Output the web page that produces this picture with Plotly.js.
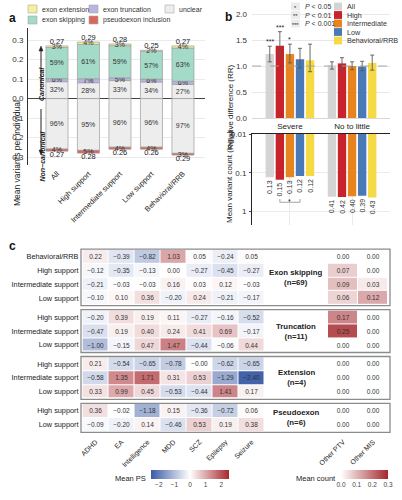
<!DOCTYPE html>
<html>
<head>
<meta charset="utf-8">
<script src="https://cdn.plot.ly/plotly-3.0.1.min.js"></script>
<style>
  html, body { margin: 0; padding: 0; background: #fff; }
  #chart { width: 402px; height: 500px; }
</style>
</head>
<body>
<div id="chart"></div>
<script>
// ---- a: splicing outcome per support group (share of each bar, in %) ----
const supportGroups = ['All', 'High support', 'Intermediate support', 'Low support', 'Behavioral/RRB'];
const canonicalTotal = [0.27, 0.29, 0.28, 0.25, 0.27];
const canonicalUnclear = [32, 28, 33, 34, 27];
const canonicalTruncation = [6, 7, 5, 6, 6];
const canonicalSkipping = [59, 61, 59, 57, 63];
const canonicalExtension = [3, 4, 3, 2, 4];
const nonCanonicalTotal = [0.27, 0.28, 0.26, 0.26, 0.29];
const nonCanonicalUnclear = [96, 95, 96, 96, 97];
const nonCanonicalPseudoexon = [4, 5, 4, 4, 3];
const outcomeLabels = ['exon extension', 'exon truncation', 'unclear', 'exon skipping', 'pseudoexon inclusion'];

// ---- b: relative difference and mean variant count by severity ----
const severity = ['Severe', 'No to little'];
const levels = ['All', 'High', 'Intermediate', 'Low', 'Behavioral/RRB'];
const rrEstimate = [[1.23, 1.01], [1.39, 1.05], [1.23, 1.00], [1.13, 0.99], [1.11, 1.06]];
const rrLower = [[1.08, 0.94], [1.18, 0.95], [1.06, 0.93], [0.96, 0.91], [0.89, 0.92]];
const rrUpper = [[1.38, 1.08], [1.66, 1.16], [1.42, 1.08], [1.34, 1.09], [1.42, 1.21]];
const rrStars = [['***', ''], ['***', ''], ['*', ''], ['', ''], ['', '']];
const meanCount = [[0.13, 0.41], [0.15, 0.42], [0.13, 0.40], [0.12, 0.39], [0.12, 0.43]];
const pLegendKeys = ['*', '**', '***'];
const pLegendText = ['<i>P</i> < 0.05', '<i>P</i> < 0.01', '<i>P</i> < 0.001'];

// ---- c: mean polygenic score per trait and co-occurring variant counts ----
const traits = ['ADHD', 'EA', 'Intelligence', 'MDD', 'SCZ', 'Epilepsy', 'Seizure'];
const otherVariants = ['Other PTV', 'Other MIS'];

const skipRows = ['Behavioral/RRB', 'High support', 'Intermediate support', 'Low support'];
const skipPS = [
  [0.22, -0.39, -0.82, 1.03, 0.05, -0.24, 0.05],
  [-0.12, -0.35, -0.13, 0.00, -0.27, -0.45, -0.27],
  [-0.21, -0.03, -0.03, 0.16, 0.03, 0.12, -0.03],
  [-0.10, 0.10, 0.36, -0.20, 0.24, -0.21, -0.17]
];
const skipCount = [[0.00, 0.00], [0.07, 0.00], [0.09, 0.03], [0.06, 0.12]];

const truncRows = ['High support', 'Intermediate support', 'Low support'];
const truncPS = [
  [-0.20, 0.39, 0.19, 0.11, -0.27, -0.16, -0.52],
  [-0.47, 0.19, 0.40, 0.24, 0.41, 0.69, -0.17],
  [-1.00, -0.15, 0.47, 1.47, -0.44, -0.06, 0.44]
];
const truncCount = [[0.17, 0.00], [0.25, 0.00], [0.00, 0.00]];

const extRows = ['High support', 'Intermediate support', 'Low support'];
const extPS = [
  [0.21, -0.54, -0.65, -0.78, -0.00, -0.62, -0.65],
  [-0.58, 1.35, 1.71, 0.31, 0.53, -1.29, -2.40],
  [0.33, 0.99, 0.45, -0.53, -0.44, 1.41, 0.17]
];
const extCount = [[0.00, 0.00], [0.00, 0.00], [0.00, 0.00]];

const pseudoRows = ['High support', 'Low support'];
const pseudoPS = [
  [0.36, -0.02, -1.18, 0.15, -0.36, -0.72, 0.06],
  [-0.09, -0.20, 0.14, -0.46, 0.53, 0.19, 0.38]
];
const pseudoCount = [[0.00, 0.00], [0.00, 0.00]];

const groupNames = ['Exon skipping', 'Truncation', 'Extension', 'Pseudoexon'];
const groupSizes = [69, 11, 4, 6];
const groupRows = [skipRows, truncRows, extRows, pseudoRows];
const groupPS = [skipPS, truncPS, extPS, pseudoPS];
const groupCounts = [skipCount, truncCount, extCount, pseudoCount];

// ---- styling ----
const FONT = 'Liberation Sans, Arial, Helvetica, sans-serif';
const outcomeColors = { ext: '#f6f09c', trunc: '#b9b4e0', unclear: '#ededed', skip: '#a4dac8', pseudo: '#d9685c' };
const levelColors = ['#d4d4d4', '#c8232b', '#e8841f', '#4a79b7', '#f6da45'];
const psScale = [[0, '#3a5ba6'], [0.5, '#ffffff'], [1, '#a8272d']];
const countScale = [[0, '#ffffff'], [1, '#a5282d']];

const W = 402, H = 500;
const px = v => v / W;          // pixel column -> paper x
const py = v => 1 - v / H;      // pixel row -> paper y
const signed = v => (v < 0 || Object.is(v, -0) ? '\u2212' : '') + Math.abs(v).toFixed(2);

const traces = [];
const shapes = [];
const annotations = [];

// ---------- a ----------
function stacked(totals, shares, colors, sign) {
  const base = totals.map(() => 0);
  return shares.map((share, k) => {
    const h = totals.map((t, i) => sign * t * share[i] / 100);
    const tr = {
      type: 'bar', x: supportGroups, y: h, base: base.slice(), width: 0.7, offsetgroup: 'a',
      xaxis: 'x', yaxis: 'y',
      marker: { color: colors[k], line: { color: '#9d9d9d', width: 0.7 } },
      text: share.map(s => s + '%'), textposition: 'inside', insidetextanchor: 'middle', textangle: 0,
      textfont: { size: 7.5, color: '#333' }, cliponaxis: false, hoverinfo: 'skip', showlegend: false
    };
    h.forEach((v, i) => { base[i] += v; });
    return tr;
  });
}
traces.push(...stacked(canonicalTotal,
  [canonicalUnclear, canonicalTruncation, canonicalSkipping, canonicalExtension],
  [outcomeColors.unclear, outcomeColors.trunc, outcomeColors.skip, outcomeColors.ext], 1));
traces.push(...stacked(nonCanonicalTotal,
  [nonCanonicalUnclear, nonCanonicalPseudoexon],
  [outcomeColors.unclear, outcomeColors.pseudo], -1));
traces.push({
  type: 'scatter', mode: 'text', x: supportGroups, y: canonicalTotal,
  text: canonicalTotal.map(v => v.toFixed(2)), textposition: 'top center',
  textfont: { size: 7.5, color: '#222' }, xaxis: 'x', yaxis: 'y', cliponaxis: false, hoverinfo: 'skip', showlegend: false
});
traces.push({
  type: 'scatter', mode: 'text', x: supportGroups, y: nonCanonicalTotal.map(v => -v),
  text: nonCanonicalTotal.map(v => v.toFixed(2)), textposition: 'bottom center',
  textfont: { size: 7.5, color: '#222' }, xaxis: 'x', yaxis: 'y', cliponaxis: false, hoverinfo: 'skip', showlegend: false
});

// legend of outcomes (two rows)
const legendA = [
  { c: outcomeColors.ext, x: 28, y: 9 }, { c: outcomeColors.trunc, x: 89, y: 9 }, { c: outcomeColors.unclear, x: 165, y: 9 },
  { c: outcomeColors.skip, x: 28, y: 20 }, { c: outcomeColors.pseudo, x: 89, y: 20 }
];
legendA.forEach((item, i) => {
  shapes.push({ type: 'rect', xref: 'paper', yref: 'paper', x0: px(item.x), x1: px(item.x + 9), y0: py(item.y + 4), y1: py(item.y - 4),
    fillcolor: item.c, line: { color: '#a8a8a8', width: 0.6 } });
  annotations.push({ xref: 'paper', yref: 'paper', x: px(item.x + 12), y: py(item.y), xanchor: 'left', yanchor: 'middle',
    text: outcomeLabels[i], showarrow: false, font: { size: 7, color: '#333' } });
});

// canonical / non-canonical side labels with arrows
annotations.push({ xref: 'paper', yref: 'paper', x: px(36), y: py(64), text: '<b><i>Canonical</i></b>', textangle: -90,
  showarrow: false, font: { size: 7, color: '#222' } });
annotations.push({ xref: 'paper', yref: 'paper', x: px(36.5), y: py(129), text: '<b><i>Non\u2212canonical</i></b>', textangle: -90,
  showarrow: false, font: { size: 7, color: '#222' } });
function vArrow(x, yTail, yHead) {
  const dir = yHead < yTail ? 1 : -1;
  shapes.push({ type: 'line', xref: 'paper', yref: 'paper', x0: px(x), x1: px(x), y0: py(yTail), y1: py(yHead + dir * 3),
    line: { color: '#222', width: 1 } });
  shapes.push({ type: 'path', xref: 'paper', yref: 'paper',
    path: `M ${px(x)},${py(yHead)} L ${px(x - 2)},${py(yHead + dir * 5)} L ${px(x + 2)},${py(yHead + dir * 5)} Z`,
    fillcolor: '#222', line: { color: '#222', width: 0.5 } });
}
vArrow(41, 89, 46);
vArrow(41, 109, 155);

annotations.push({ xref: 'paper', yref: 'paper', x: px(10), y: py(98), text: 'Mean variants per individual', textangle: -90,
  showarrow: false, font: { size: 8.5, color: '#222' } });

// ---------- b ----------
const slot = 0.81 / levels.length;
levels.forEach((lv, i) => {
  traces.push({
    type: 'bar', name: lv, x: severity, y: rrEstimate[i], xaxis: 'x2', yaxis: 'y2',
    marker: { color: levelColors[i] },
    error_y: { type: 'data', symmetric: false,
      array: rrUpper[i].map((u, j) => u - rrEstimate[i][j]),
      arrayminus: rrLower[i].map((l, j) => rrEstimate[i][j] - l),
      color: '#5a5a5a', thickness: 0.9, width: 2 },
    hoverinfo: 'skip', showlegend: false
  });
  traces.push({
    type: 'bar', name: lv, x: severity, y: meanCount[i], xaxis: 'x3', yaxis: 'y3',
    marker: { color: levelColors[i] },
    text: meanCount[i].map(v => v.toFixed(2)), textposition: 'outside', textangle: -90, constraintext: 'none',
    textfont: { size: 7, color: '#333' }, cliponaxis: false, hoverinfo: 'skip', showlegend: false
  });
  rrStars[i].forEach((s, j) => {
    if (!s) return;
    annotations.push({ xref: 'x2', yref: 'y2', x: j + (i - 2) * slot, y: rrUpper[i][j], yanchor: 'bottom', yshift: -1,
      text: s, showarrow: false, font: { size: 7, color: '#222' } });
  });
  // colour key
  const ly = 6.5 + i * 8.5;
  shapes.push({ type: 'rect', xref: 'paper', yref: 'paper', x0: px(334), x1: px(342), y0: py(ly + 3.9), y1: py(ly - 3.9),
    fillcolor: levelColors[i], line: { width: 0 } });
  annotations.push({ xref: 'paper', yref: 'paper', x: px(345), y: py(ly), xanchor: 'left', yanchor: 'middle',
    text: lv, showarrow: false, font: { size: 7.2, color: '#333' } });
});

// significance key
pLegendKeys.forEach((k, i) => {
  const ly = 6.5 + i * 8.5;
  shapes.push({ type: 'rect', xref: 'paper', yref: 'paper', x0: px(291), x1: px(300), y0: py(ly + 3.9), y1: py(ly - 3.9),
    fillcolor: '#ececec', line: { width: 0 } });
  annotations.push({ xref: 'paper', yref: 'paper', x: px(295.5), y: py(ly + 1), xanchor: 'center', yanchor: 'middle',
    text: k, showarrow: false, font: { size: 5.5, color: '#222' } });
  annotations.push({ xref: 'paper', yref: 'paper', x: px(303), y: py(ly), xanchor: 'left', yanchor: 'middle',
    text: pLegendText[i], showarrow: false, font: { size: 7, color: '#333' } });
});

// reference line at RR = 1
shapes.push({ type: 'line', xref: 'paper', yref: 'y2', x0: px(252), x1: px(390), y0: 1, y1: 1, layer: 'above',
  line: { color: '#a0a0a0', width: 0.9, dash: 'dash' } });

// comparison bracket under the severe group
shapes.push({ type: 'path', xref: 'x3', yref: 'y3 domain',
  path: `M ${-slot},0.285 L ${-slot},0.25 L ${slot},0.25 L ${slot},0.285`,
  line: { color: '#999', width: 0.9 } });
annotations.push({ xref: 'x3', yref: 'y3 domain', x: 0, y: 0.2, text: '*', showarrow: false, font: { size: 7, color: '#222' } });

annotations.push({ xref: 'paper', yref: 'paper', x: px(230), y: py(62), text: 'Relative difference (RR)', textangle: -90,
  showarrow: false, font: { size: 8, color: '#222' } });
annotations.push({ xref: 'paper', yref: 'paper', x: px(230), y: py(176), text: 'Mean variant count (log<sub>10</sub>)', textangle: -90,
  showarrow: false, font: { size: 8, color: '#222' } });

// ---------- c ----------
const layoutC = {};
let cursor = 249.8;
const rowPx = 13.8, gapPx = 5.4;
groupNames.forEach((g, gi) => {
  const top = cursor, bottom = cursor + groupRows[gi].length * rowPx;
  cursor = bottom + gapPx;
  const n = 4 + gi;
  layoutC['yaxis' + n] = {
    domain: [py(bottom), py(top)], anchor: 'x4', type: 'category', autorange: 'reversed',
    ticks: '', showgrid: false, zeroline: false, showline: false, ticklabelstandoff: 3,
    tickfont: { size: 7.3, color: '#222' }
  };
  traces.push({
    type: 'heatmap', x: traits, y: groupRows[gi], z: groupPS[gi], coloraxis: 'coloraxis',
    text: groupPS[gi].map(r => r.map(signed)), texttemplate: '%{text}', textfont: { size: 6.5, color: '#333' },
    xgap: 1, ygap: 1, xaxis: 'x4', yaxis: 'y' + n, hoverinfo: 'skip'
  });
  traces.push({
    type: 'heatmap', x: otherVariants, y: groupRows[gi], z: groupCounts[gi], coloraxis: 'coloraxis2',
    text: groupCounts[gi].map(r => r.map(signed)), texttemplate: '%{text}', textfont: { size: 6.5, color: '#333' },
    xgap: 1, ygap: 1, xaxis: 'x5', yaxis: 'y' + n, hoverinfo: 'skip'
  });
  shapes.push({ type: 'rect', xref: 'paper', yref: 'paper', x0: px(81), x1: px(390), y0: py(bottom + 0.7), y1: py(top - 0.7),
    line: { color: '#8c8c8c', width: 1.3 }, fillcolor: 'rgba(0,0,0,0)' });
  annotations.push({ xref: 'paper', yref: 'paper', x: px(296), y: py((top + bottom) / 2), xanchor: 'center', yanchor: 'middle',
    text: `<b>${g}</b><br><b>(n=${groupSizes[gi]})</b>`, showarrow: false, font: { size: 7.8, color: '#222' } });
});

annotations.push({ xref: 'paper', yref: 'paper', x: px(148), y: py(478), xanchor: 'right', yanchor: 'middle',
  text: 'Mean PS', showarrow: false, font: { size: 7.5, color: '#222' } });
annotations.push({ xref: 'paper', yref: 'paper', x: px(338), y: py(478), xanchor: 'right', yanchor: 'middle',
  text: 'Mean count', showarrow: false, font: { size: 7.5, color: '#222' } });

// panel letters
[['a', 7, 8.5], ['b', 228.5, 7.5], ['c', 6.5, 245.5]].forEach(([t, x, y]) => {
  annotations.push({ xref: 'paper', yref: 'paper', x: px(x), y: py(y), text: `<b>${t}</b>`, showarrow: false,
    font: { size: 12, color: '#111' } });
});

const layout = Object.assign({
  width: W, height: H,
  margin: { l: 0, r: 0, t: 0, b: 0 },
  paper_bgcolor: '#fff', plot_bgcolor: '#fff',
  font: { family: FONT, size: 8, color: '#222' },
  showlegend: false,
  barmode: 'group', bargap: 0.19, bargroupgap: 0.17,
  uniformtext: { mode: 'show', minsize: 7 },
  xaxis: {
    domain: [px(28), px(205)], anchor: 'y', type: 'category', range: [-0.92, 4.7],
    tickangle: -45, ticks: '', showgrid: false, zeroline: false, showline: false,
    tickfont: { size: 7.5, color: '#222' }, ticklabelstandoff: 2
  },
  yaxis: {
    domain: [py(165), py(28)], anchor: 'x', range: [-0.341, 0.362],
    tickvals: [-0.3, -0.2, -0.1, 0, 0.1, 0.2, 0.3], ticktext: ['0.3', '0.2', '0.1', '0.0', '0.1', '0.2', '0.3'],
    ticks: '', showline: true, linecolor: '#333', linewidth: 1, gridcolor: '#ebebeb',
    zeroline: true, zerolinecolor: '#444', zerolinewidth: 1, tickfont: { size: 8, color: '#333' }, ticklabelstandoff: 2
  },
  xaxis2: {
    domain: [px(252), px(390)], anchor: 'y2', type: 'category', range: [-0.61, 1.61],
    ticks: '', showgrid: false, zeroline: false, showline: true, linecolor: '#d8d8d8',
    tickfont: { size: 8, color: '#222' }
  },
  yaxis2: {
    domain: [py(118), py(5)], anchor: 'x2', range: [0, 2.173],
    tickvals: [0, 0.5, 1, 1.5, 2], ticktext: ['0.0', '0.5', '1.0', '1.5', '2.0'],
    ticks: '', showline: false, zeroline: false, gridcolor: '#e8e8e8', tickfont: { size: 8, color: '#333' }, ticklabelstandoff: 4
  },
  xaxis3: {
    domain: [px(252), px(390)], anchor: 'y3', side: 'top', type: 'category', range: [-0.61, 1.61],
    ticks: '', showticklabels: false, showgrid: true, gridcolor: '#ebebeb', zeroline: false,
    showline: true, linecolor: '#222', linewidth: 1
  },
  yaxis3: {
    domain: [py(225), py(134)], anchor: 'x3', type: 'log', range: [0.343, -2],
    tickvals: [0.01, 0.1, 1], ticktext: ['0.01', '0.1', '1'],
    ticks: 'outside', ticklen: 2, tickcolor: '#444', showline: true, linecolor: '#222', linewidth: 1,
    gridcolor: '#ebebeb', zeroline: false, tickfont: { size: 8, color: '#333' }, ticklabelstandoff: 1
  },
  xaxis4: {
    domain: [px(82.5), px(264.5)], anchor: 'y7', type: 'category', tickangle: -45, ticks: '',
    showgrid: false, zeroline: false, showline: false, tickfont: { size: 7, color: '#222' }, ticklabelstandoff: 4
  },
  xaxis5: {
    domain: [px(328), px(388)], anchor: 'y7', type: 'category', tickangle: -45, ticks: '',
    showgrid: false, zeroline: false, showline: false, tickfont: { size: 7, color: '#222' }, ticklabelstandoff: 4
  },
  coloraxis: {
    cmin: -2.5, cmax: 2.5, colorscale: psScale,
    colorbar: {
      orientation: 'h', x: px(190), xanchor: 'center', y: py(478), yanchor: 'middle',
      len: 78, lenmode: 'pixels', thickness: 9, thicknessmode: 'pixels', xpad: 0, ypad: 0, outlinewidth: 0,
      tickvals: [-2, -1, 0, 1, 2], ticktext: ['\u22122', '\u22121', '0', '1', '2'], ticks: '',
      tickfont: { size: 6.5, color: '#444' }
    }
  },
  coloraxis2: {
    cmin: 0, cmax: 0.3, colorscale: countScale,
    colorbar: {
      orientation: 'h', x: px(364.5), xanchor: 'center', y: py(478), yanchor: 'middle',
      len: 47, lenmode: 'pixels', thickness: 9, thicknessmode: 'pixels', xpad: 0, ypad: 0, outlinewidth: 0,
      tickvals: [0, 0.1, 0.2, 0.3], ticktext: ['0.0', '0.1', '0.2', '0.3'], ticks: '',
      tickfont: { size: 6.5, color: '#444' }
    }
  },
  shapes: shapes,
  annotations: annotations
}, layoutC);

Plotly.newPlot('chart', traces, layout, { staticPlot: true, displayModeBar: false });
</script>
</body>
</html>
